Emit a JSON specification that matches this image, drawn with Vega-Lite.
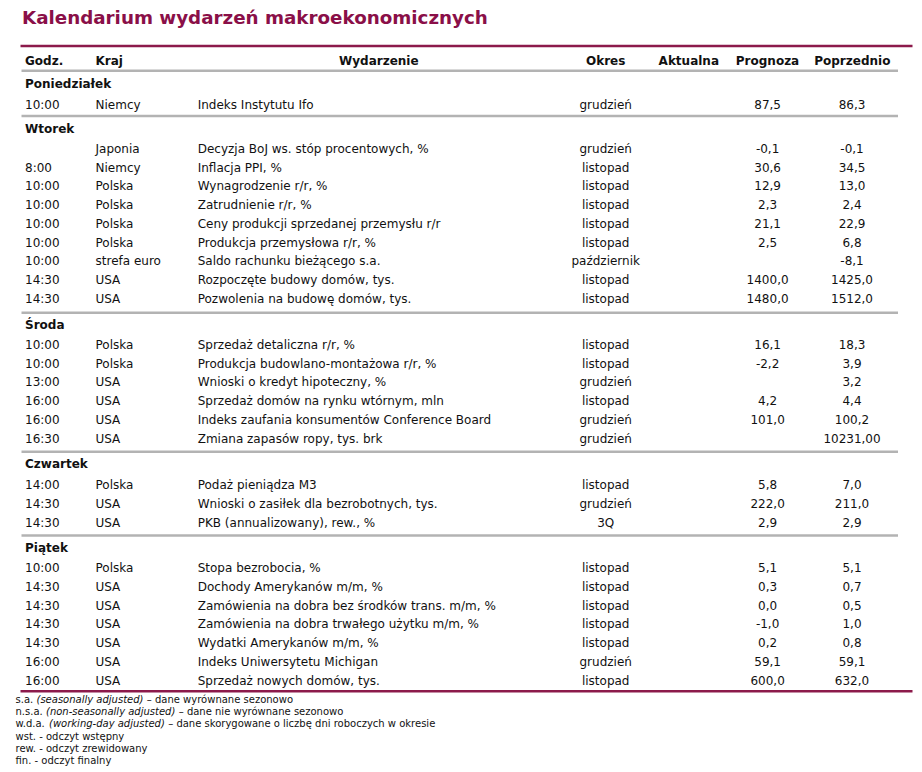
{
  "$schema": "https://vega.github.io/schema/vega-lite/v6.json",
  "width": 922,
  "height": 772,
  "autosize": {"type": "none"},
  "padding": 0,
  "background": "white",
  "config": {
    "view": {"stroke": null},
    "locale": {"number": {"decimal": ",", "thousands": "\u00a0", "grouping": [3], "currency": ["", " zł"], "minus": "-"}},
    "text": {"font": "DejaVu Sans", "fontSize": 12, "color": "#111111", "baseline": "middle"}
  },
  "title": {
    "text": "Kalendarium wydarzeń makroekonomicznych",
    "anchor": "start",
    "frame": "group",
    "offset": -42,
    "dx": 22,
    "baseline": "alphabetic",
    "font": "DejaVu Sans",
    "fontSize": 18.3,
    "fontWeight": "bold",
    "color": "#8a0f48"
  },
  "datasets": {
    "header": [
      {"r": 0, "godz": "Godz.", "kraj": "Kraj", "wyd": "Wydarzenie", "okres": "Okres", "akt": "Aktualna", "prog": "Prognoza", "poprz": "Poprzednio"}
    ],
    "days": [
      {"r": 1, "day": "Poniedziałek"},
      {"r": 3, "day": "Wtorek"},
      {"r": 13, "day": "Środa"},
      {"r": 20, "day": "Czwartek"},
      {"r": 24, "day": "Piątek"}
    ],
    "rows": [
      {"r": 2, "godz": "10:00", "kraj": "Niemcy", "wyd": "Indeks Instytutu Ifo", "okres": "grudzień", "prog": 87.5, "poprz": 86.3},
      {"r": 4, "godz": "", "kraj": "Japonia", "wyd": "Decyzja BoJ ws. stóp procentowych, %", "okres": "grudzień", "prog": -0.1, "poprz": -0.1},
      {"r": 5, "godz": "8:00", "kraj": "Niemcy", "wyd": "Inflacja PPI, %", "okres": "listopad", "prog": 30.6, "poprz": 34.5},
      {"r": 6, "godz": "10:00", "kraj": "Polska", "wyd": "Wynagrodzenie r/r, %", "okres": "listopad", "prog": 12.9, "poprz": 13.0},
      {"r": 7, "godz": "10:00", "kraj": "Polska", "wyd": "Zatrudnienie r/r, %", "okres": "listopad", "prog": 2.3, "poprz": 2.4},
      {"r": 8, "godz": "10:00", "kraj": "Polska", "wyd": "Ceny produkcji sprzedanej przemysłu r/r", "okres": "listopad", "prog": 21.1, "poprz": 22.9},
      {"r": 9, "godz": "10:00", "kraj": "Polska", "wyd": "Produkcja przemysłowa r/r, %", "okres": "listopad", "prog": 2.5, "poprz": 6.8},
      {"r": 10, "godz": "10:00", "kraj": "strefa euro", "wyd": "Saldo rachunku bieżącego s.a.", "okres": "październik", "prog": null, "poprz": -8.1},
      {"r": 11, "godz": "14:30", "kraj": "USA", "wyd": "Rozpoczęte budowy domów, tys.", "okres": "listopad", "prog": 1400.0, "poprz": 1425.0},
      {"r": 12, "godz": "14:30", "kraj": "USA", "wyd": "Pozwolenia na budowę domów, tys.", "okres": "listopad", "prog": 1480.0, "poprz": 1512.0},
      {"r": 14, "godz": "10:00", "kraj": "Polska", "wyd": "Sprzedaż detaliczna r/r, %", "okres": "listopad", "prog": 16.1, "poprz": 18.3},
      {"r": 15, "godz": "10:00", "kraj": "Polska", "wyd": "Produkcja budowlano-montażowa r/r, %", "okres": "listopad", "prog": -2.2, "poprz": 3.9},
      {"r": 16, "godz": "13:00", "kraj": "USA", "wyd": "Wnioski o kredyt hipoteczny, %", "okres": "grudzień", "prog": null, "poprz": 3.2},
      {"r": 17, "godz": "16:00", "kraj": "USA", "wyd": "Sprzedaż domów na rynku wtórnym, mln", "okres": "listopad", "prog": 4.2, "poprz": 4.4},
      {"r": 18, "godz": "16:00", "kraj": "USA", "wyd": "Indeks zaufania konsumentów Conference Board", "okres": "grudzień", "prog": 101.0, "poprz": 100.2},
      {"r": 19, "godz": "16:30", "kraj": "USA", "wyd": "Zmiana zapasów ropy, tys. brk", "okres": "grudzień", "prog": null, "poprz": 10231.00},
      {"r": 21, "godz": "14:00", "kraj": "Polska", "wyd": "Podaż pieniądza M3", "okres": "listopad", "prog": 5.8, "poprz": 7.0},
      {"r": 22, "godz": "14:30", "kraj": "USA", "wyd": "Wnioski o zasiłek dla bezrobotnych, tys.", "okres": "grudzień", "prog": 222.0, "poprz": 211.0},
      {"r": 23, "godz": "14:30", "kraj": "USA", "wyd": "PKB (annualizowany), rew., %", "okres": "3Q", "prog": 2.9, "poprz": 2.9},
      {"r": 25, "godz": "10:00", "kraj": "Polska", "wyd": "Stopa bezrobocia, %", "okres": "listopad", "prog": 5.1, "poprz": 5.1},
      {"r": 26, "godz": "14:30", "kraj": "USA", "wyd": "Dochody Amerykanów m/m, %", "okres": "listopad", "prog": 0.3, "poprz": 0.7},
      {"r": 27, "godz": "14:30", "kraj": "USA", "wyd": "Zamówienia na dobra bez środków trans. m/m, %", "okres": "listopad", "prog": 0.0, "poprz": 0.5},
      {"r": 28, "godz": "14:30", "kraj": "USA", "wyd": "Zamówienia na dobra trwałego użytku m/m, %", "okres": "listopad", "prog": -1.0, "poprz": 1.0},
      {"r": 29, "godz": "14:30", "kraj": "USA", "wyd": "Wydatki Amerykanów m/m, %", "okres": "listopad", "prog": 0.2, "poprz": 0.8},
      {"r": 30, "godz": "16:00", "kraj": "USA", "wyd": "Indeks Uniwersytetu Michigan", "okres": "grudzień", "prog": 59.1, "poprz": 59.1},
      {"r": 31, "godz": "16:00", "kraj": "USA", "wyd": "Sprzedaż nowych domów, tys.", "okres": "listopad", "prog": 600.0, "poprz": 632.0}
    ],
    "grayRules": [{"r": 0.5}, {"r": 2.5}, {"r": 12.5}, {"r": 19.5}, {"r": 23.5}],
    "redRules": [{"r": -1}, {"r": 31.5}],
    "fn": [
      {"r": 32, "a": "s.a.", "b": "(seasonally adjusted)", "c": "– dane wyrównane sezonowo"},
      {"r": 33, "a": "n.s.a.", "b": "(non-seasonally adjusted)", "c": "– dane nie wyrównane sezonowo"},
      {"r": 34, "a": "w.d.a.", "b": "(working-day adjusted)", "c": "– dane skorygowane o liczbę dni roboczych w okresie"},
      {"r": 35, "a": "wst. - odczyt wstępny"},
      {"r": 36, "a": "rew. - odczyt zrewidowany"},
      {"r": 37, "a": "fin. - odczyt finalny"}
    ]
  },
  "encoding": {
    "y": {
      "field": "r",
      "type": "quantitative",
      "axis": null,
      "scale": {
        "nice": false,
        "zero": false,
        "domain": [-1, 0, 0.5, 1, 2, 2.5, 3, 4, 12, 12.5, 13, 14, 19, 19.5, 20, 21, 23, 23.5, 24, 25, 31, 31.5, 32, 37],
        "range": [46, 61, 70.7, 83.5, 104.5, 116, 128.5, 148.8, 298.8, 312.7, 325, 345, 438.5, 451.7, 464, 485, 522.5, 535.5, 548, 568, 680.5, 691.3, 700.3, 760.7]
      }
    }
  },
  "layer": [
    {
      "data": {"name": "grayRules"},
      "mark": {"type": "rule", "stroke": "#b3b3b3", "strokeWidth": 2.5},
      "encoding": {
        "x": {"datum": 21.5, "type": "quantitative", "axis": null, "scale": {"domain": [0, 922], "nice": false}},
        "x2": {"datum": 898}
      }
    },
    {
      "data": {"name": "redRules"},
      "mark": {"type": "rule", "stroke": "#8c1a4b", "strokeWidth": 2.5},
      "encoding": {
        "x": {"datum": 20.5, "type": "quantitative", "axis": null, "scale": {"domain": [0, 922], "nice": false}},
        "x2": {"datum": 912.5}
      }
    },
    {
      "data": {"name": "header"},
      "mark": {"type": "text", "align": "left", "fontWeight": "bold"},
      "encoding": {"x": {"datum": 25, "type": "quantitative", "axis": null, "scale": {"domain": [0, 922], "nice": false}}, "text": {"field": "godz"}}
    },
    {
      "data": {"name": "header"},
      "mark": {"type": "text", "align": "left", "fontWeight": "bold"},
      "encoding": {"x": {"datum": 95.5, "type": "quantitative", "axis": null, "scale": {"domain": [0, 922], "nice": false}}, "text": {"field": "kraj"}}
    },
    {
      "data": {"name": "header"},
      "mark": {"type": "text", "align": "center", "fontWeight": "bold"},
      "encoding": {"x": {"datum": 378.8, "type": "quantitative", "axis": null, "scale": {"domain": [0, 922], "nice": false}}, "text": {"field": "wyd"}}
    },
    {
      "data": {"name": "header"},
      "mark": {"type": "text", "align": "center", "fontWeight": "bold"},
      "encoding": {"x": {"datum": 605.7, "type": "quantitative", "axis": null, "scale": {"domain": [0, 922], "nice": false}}, "text": {"field": "okres"}}
    },
    {
      "data": {"name": "header"},
      "mark": {"type": "text", "align": "center", "fontWeight": "bold"},
      "encoding": {"x": {"datum": 688.8, "type": "quantitative", "axis": null, "scale": {"domain": [0, 922], "nice": false}}, "text": {"field": "akt"}}
    },
    {
      "data": {"name": "header"},
      "mark": {"type": "text", "align": "center", "fontWeight": "bold"},
      "encoding": {"x": {"datum": 767.5, "type": "quantitative", "axis": null, "scale": {"domain": [0, 922], "nice": false}}, "text": {"field": "prog"}}
    },
    {
      "data": {"name": "header"},
      "mark": {"type": "text", "align": "center", "fontWeight": "bold"},
      "encoding": {"x": {"datum": 852.3, "type": "quantitative", "axis": null, "scale": {"domain": [0, 922], "nice": false}}, "text": {"field": "poprz"}}
    },
    {
      "data": {"name": "days"},
      "mark": {"type": "text", "align": "left", "fontWeight": "bold"},
      "encoding": {"x": {"datum": 25, "type": "quantitative", "axis": null, "scale": {"domain": [0, 922], "nice": false}}, "text": {"field": "day"}}
    },
    {
      "data": {"name": "rows"},
      "mark": {"type": "text", "align": "left"},
      "encoding": {"x": {"datum": 25, "type": "quantitative", "axis": null, "scale": {"domain": [0, 922], "nice": false}}, "text": {"field": "godz"}}
    },
    {
      "data": {"name": "rows"},
      "mark": {"type": "text", "align": "left"},
      "encoding": {"x": {"datum": 95.5, "type": "quantitative", "axis": null, "scale": {"domain": [0, 922], "nice": false}}, "text": {"field": "kraj"}}
    },
    {
      "data": {"name": "rows"},
      "mark": {"type": "text", "align": "left"},
      "encoding": {"x": {"datum": 197.7, "type": "quantitative", "axis": null, "scale": {"domain": [0, 922], "nice": false}}, "text": {"field": "wyd"}}
    },
    {
      "data": {"name": "rows"},
      "mark": {"type": "text", "align": "center"},
      "encoding": {"x": {"datum": 605.7, "type": "quantitative", "axis": null, "scale": {"domain": [0, 922], "nice": false}}, "text": {"field": "okres"}}
    },
    {
      "data": {"name": "rows"},
      "transform": [{"filter": "isValid(datum.prog)"}],
      "mark": {"type": "text", "align": "center"},
      "encoding": {"x": {"datum": 767.6, "type": "quantitative", "axis": null, "scale": {"domain": [0, 922], "nice": false}}, "text": {"field": "prog", "type": "quantitative", "format": ".1f"}}
    },
    {
      "data": {"name": "rows"},
      "transform": [{"filter": "isValid(datum.poprz)"}],
      "mark": {"type": "text", "align": "center"},
      "encoding": {
        "x": {"datum": 852, "type": "quantitative", "axis": null, "scale": {"domain": [0, 922], "nice": false}},
        "text": {
          "condition": {"test": "datum.r === 19", "field": "poprz", "type": "quantitative", "format": ".2f"},
          "field": "poprz", "type": "quantitative", "format": ".1f"
        }
      }
    },
    {
      "data": {"name": "fn"},
      "mark": {"type": "text", "align": "left", "fontSize": 10},
      "encoding": {"x": {"datum": 15.5, "type": "quantitative", "axis": null, "scale": {"domain": [0, 922], "nice": false}}, "text": {"field": "a"}}
    },
    {
      "data": {"name": "fn"},
      "transform": [{"filter": "datum.r === 32"}],
      "mark": {"type": "text", "align": "left", "fontSize": 10, "fontStyle": "italic"},
      "encoding": {"x": {"datum": 36.5, "type": "quantitative", "axis": null, "scale": {"domain": [0, 922], "nice": false}}, "text": {"field": "b"}}
    },
    {
      "data": {"name": "fn"},
      "transform": [{"filter": "datum.r === 32"}],
      "mark": {"type": "text", "align": "left", "fontSize": 10},
      "encoding": {"x": {"datum": 146.8, "type": "quantitative", "axis": null, "scale": {"domain": [0, 922], "nice": false}}, "text": {"field": "c"}}
    },
    {
      "data": {"name": "fn"},
      "transform": [{"filter": "datum.r === 33"}],
      "mark": {"type": "text", "align": "left", "fontSize": 10, "fontStyle": "italic"},
      "encoding": {"x": {"datum": 46, "type": "quantitative", "axis": null, "scale": {"domain": [0, 922], "nice": false}}, "text": {"field": "b"}}
    },
    {
      "data": {"name": "fn"},
      "transform": [{"filter": "datum.r === 33"}],
      "mark": {"type": "text", "align": "left", "fontSize": 10},
      "encoding": {"x": {"datum": 178.7, "type": "quantitative", "axis": null, "scale": {"domain": [0, 922], "nice": false}}, "text": {"field": "c"}}
    },
    {
      "data": {"name": "fn"},
      "transform": [{"filter": "datum.r === 34"}],
      "mark": {"type": "text", "align": "left", "fontSize": 10, "fontStyle": "italic"},
      "encoding": {"x": {"datum": 49, "type": "quantitative", "axis": null, "scale": {"domain": [0, 922], "nice": false}}, "text": {"field": "b"}}
    },
    {
      "data": {"name": "fn"},
      "transform": [{"filter": "datum.r === 34"}],
      "mark": {"type": "text", "align": "left", "fontSize": 10},
      "encoding": {"x": {"datum": 168.2, "type": "quantitative", "axis": null, "scale": {"domain": [0, 922], "nice": false}}, "text": {"field": "c"}}
    }
  ]
}
